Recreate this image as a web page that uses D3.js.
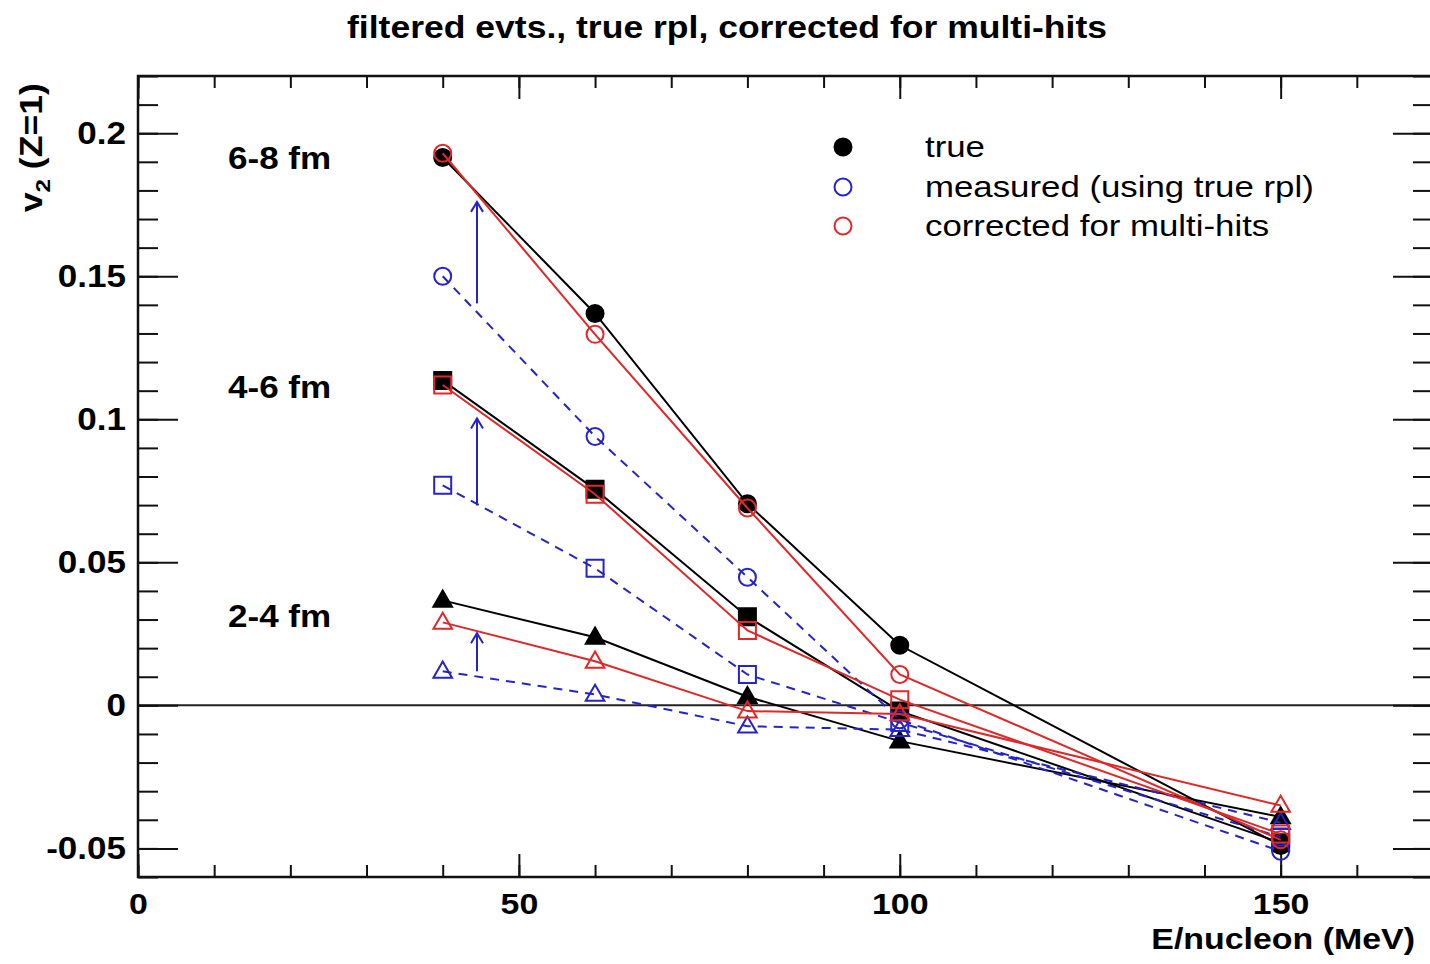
<!DOCTYPE html>
<html>
<head>
<meta charset="utf-8">
<script src="https://cdn.jsdelivr.net/npm/d3@7"></script>
<style>
  body { margin: 0; background: #fff; }
  text { font-family: "Liberation Sans", Arial, sans-serif; }
</style>
</head>
<body>
<script>
// beam energies (MeV/nucleon)
const energies = [40, 60, 80, 100, 150];

// v2 values, one array per centrality and method
const true68 = [0.1915, 0.137, 0.0705, 0.021, -0.049];
const meas68 = [0.150, 0.094, 0.0448, -0.005, -0.051];
const corr68 = [0.193, 0.1297, 0.069, 0.0108, -0.047];

const true46 = [0.1136, 0.0755, 0.031, -0.002, -0.048];
const meas46 = [0.0769, 0.0479, 0.0108, -0.006, -0.046];
const corr46 = [0.112, 0.0738, 0.0262, 0.002, -0.045];

const true24 = [0.0367, 0.0238, 0.003, -0.0125, -0.039];
const meas24 = [0.0119, 0.0038, -0.0073, -0.0085, -0.041];
const corr24 = [0.029, 0.0154, -0.002, -0.003, -0.035];

// blue arrows (measured -> corrected), in data units
const arrowE = 44.5;
const arrowFrom = [0.1405, 0.0699, 0.0119];
const arrowTo = [0.176, 0.1003, 0.0252];

const groupLabels = ["6-8 fm", "4-6 fm", "2-4 fm"];
const groupLabelY = [0.1875, 0.1075, 0.0275];

const xTicksMajor = [0, 50, 100, 150];
const yTicksMajor = [-0.05, 0, 0.05, 0.1, 0.15, 0.2];
const yTickLabels = ["-0.05", "0", "0.05", "0.1", "0.15", "0.2"];

const legendNames = ["true", "measured (using true rpl)", "corrected for multi-hits"];

const BLACK = "#000", BLUE = "#2424c8", RED = "#e02828";
const WIDEN = 1.13; // the original font is a bit wider than Liberation Sans

const W = 1430, H = 964;
const svg = d3.select("body").append("svg").attr("width", W).attr("height", H);

const x = d3.scaleLinear().domain([0, 170]).range([138, 1433]);
const y = d3.scaleLinear().domain([-0.06, 0.22]).range([877, 76]);

// titre
svg.append("text")
  .attr("class", "fixed")
  .attr("x", 727).attr("y", 38)
  .attr("text-anchor", "middle")
  .attr("font-size", 31).attr("font-weight", "bold")
  .attr("textLength", 760).attr("lengthAdjust", "spacingAndGlyphs")
  .text("filtered evts., true rpl, corrected for multi-hits");

// zero line
svg.append("line")
  .attr("x1", x(0)).attr("x2", x(170))
  .attr("y1", y(0)).attr("y2", y(0))
  .attr("stroke", "#222").attr("stroke-width", 2);

// axes (ticks inward on all sides)
function styleAxis(g, size) {
  g.select(".domain").remove();
  g.selectAll(".tick line").attr("stroke", "#111").attr("stroke-width", 2);
  g.selectAll("text").attr("font-size", size || 31).attr("font-weight", "bold")
    .attr("fill", "#000").attr("font-family", "Liberation Sans, Arial, sans-serif");
}
const xMinor = d3.range(0, 171, 10);
const yMinor = d3.range(-6, 23).map(d => d / 100);

svg.append("g").attr("transform", `translate(0,${y(-0.06)})`)
  .call(d3.axisBottom(x).tickValues(xMinor).tickSize(-12).tickFormat("")).call(styleAxis);
svg.append("g").attr("transform", `translate(0,${y(-0.06)})`)
  .call(d3.axisBottom(x).tickValues(xTicksMajor).tickSize(-23).tickPadding(16).tickFormat(d3.format("d")))
  .call(styleAxis, 30);
svg.append("g").attr("transform", `translate(0,${y(0.22)})`)
  .call(d3.axisTop(x).tickValues(xMinor).tickSize(-12).tickFormat("")).call(styleAxis);
svg.append("g").attr("transform", `translate(0,${y(0.22)})`)
  .call(d3.axisTop(x).tickValues(xTicksMajor).tickSize(-23).tickFormat("")).call(styleAxis);

svg.append("g").attr("transform", `translate(${x(0)},0)`)
  .call(d3.axisLeft(y).tickValues(yMinor).tickSize(-20).tickFormat("")).call(styleAxis);
svg.append("g").attr("transform", `translate(${x(0)},0)`)
  .call(d3.axisLeft(y).tickValues(yTicksMajor).tickSize(-40).tickPadding(12)
    .tickFormat((d, i) => yTickLabels[i]))
  .call(styleAxis);
svg.append("g").attr("transform", `translate(${x(170)},0)`)
  .call(d3.axisRight(y).tickValues(yMinor).tickSize(-20).tickFormat("")).call(styleAxis);
svg.append("g").attr("transform", `translate(${x(170)},0)`)
  .call(d3.axisRight(y).tickValues(yTicksMajor).tickSize(-40).tickFormat("")).call(styleAxis);

// cadre
svg.append("rect")
  .attr("x", x(0)).attr("y", y(0.22))
  .attr("width", x(170) - x(0)).attr("height", y(-0.06) - y(0.22))
  .attr("fill", "none").attr("stroke", "#111").attr("stroke-width", 2.5);

// axis titles
svg.append("text")
  .attr("x", 1415).attr("y", 949)
  .attr("text-anchor", "end")
  .attr("font-size", 30).attr("font-weight", "bold")
  .text("E/nucleon (MeV)");

const yl = svg.append("text")
  .attr("class", "fixed")
  .attr("transform", "translate(42,83) rotate(-90)")
  .attr("text-anchor", "end")
  .attr("font-size", 31).attr("font-weight", "bold");
yl.append("tspan").text("v");
yl.append("tspan").attr("font-size", 21).attr("dy", 8).text("2");
yl.append("tspan").attr("dy", -8).text(" (Z=1)");

// group labels
svg.selectAll(".glabel")
  .data(groupLabels)
  .enter()
  .append("text")
  .attr("class", "glabel")
  .attr("x", 228)
  .attr("y", (d, i) => y(groupLabelY[i]))
  .attr("font-size", 31).attr("font-weight", "bold")
  .text(d => d);

// symbols
const symCircle = d3.symbol().type(d3.symbolCircle).size(Math.PI * 8.5 * 8.5);
const symSquare = d3.symbol().type(d3.symbolSquare).size(17 * 17);
const symTriangle = d3.symbol().type(d3.symbolTriangle).size(150);

const series = [
  { vals: true68, color: BLACK, dash: null, sym: symCircle, filled: true },
  { vals: true46, color: BLACK, dash: null, sym: symSquare, filled: true },
  { vals: true24, color: BLACK, dash: null, sym: symTriangle, filled: true },
  { vals: meas68, color: BLUE, dash: "9,7", sym: symCircle, filled: false },
  { vals: meas46, color: BLUE, dash: "9,7", sym: symSquare, filled: false },
  { vals: meas24, color: BLUE, dash: "9,7", sym: symTriangle, filled: false },
  { vals: corr68, color: RED, dash: null, sym: symCircle, filled: false },
  { vals: corr46, color: RED, dash: null, sym: symSquare, filled: false },
  { vals: corr24, color: RED, dash: null, sym: symTriangle, filled: false }
];

const line = d3.line().x((d, i) => x(energies[i])).y(d => y(d));

series.forEach(s => {
  svg.append("path")
    .attr("d", line(s.vals))
    .attr("fill", "none")
    .attr("stroke", s.color)
    .attr("stroke-width", 2)
    .attr("stroke-dasharray", s.dash);

  svg.selectAll(null)
    .data(s.vals)
    .enter()
    .append("path")
    .attr("d", s.sym)
    .attr("transform", (d, i) => `translate(${x(energies[i])},${y(d) + (s.sym === symTriangle ? 1 : 0)})`)
    .attr("fill", s.filled ? s.color : "none")
    .attr("stroke", s.color)
    .attr("stroke-width", 2);
});

// arrows
arrowFrom.forEach((v, i) => {
  const ax = x(arrowE), y0 = y(v), y1 = y(arrowTo[i]);
  svg.append("line")
    .attr("x1", ax).attr("x2", ax).attr("y1", y0).attr("y2", y1)
    .attr("stroke", BLUE).attr("stroke-width", 2);
  svg.append("path")
    .attr("d", `M${ax - 6},${y1 + 10}L${ax},${y1}L${ax + 6},${y1 + 10}`)
    .attr("fill", "none").attr("stroke", BLUE).attr("stroke-width", 2);
});

// legend
const legColors = [BLACK, BLUE, RED];
const legY = [147, 187, 226];
legendNames.forEach((name, i) => {
  svg.append("path")
    .attr("d", d3.symbol().type(d3.symbolCircle).size(Math.PI * 8.5 * 8.5))
    .attr("transform", `translate(843,${legY[i]})`)
    .attr("fill", i === 0 ? BLACK : "none")
    .attr("stroke", legColors[i]).attr("stroke-width", 2);
  svg.append("text")
    .attr("class", "leg")
    .attr("x", 925).attr("y", legY[i]).attr("dy", "0.33em")
    .attr("font-size", 29)
    .text(name);
});

// widen glyphs to match the original (wider) font
svg.selectAll("text:not(.fixed)").each(function () {
  const len = this.getComputedTextLength();
  if (len > 0) {
    const k = this.classList.contains("leg") ? 1.2 : WIDEN;
    d3.select(this).attr("textLength", len * k).attr("lengthAdjust", "spacingAndGlyphs");
  }
});
yl.attr("textLength", yl.node().getComputedTextLength() * 1.15).attr("lengthAdjust", "spacingAndGlyphs");
</script>
</body>
</html>
